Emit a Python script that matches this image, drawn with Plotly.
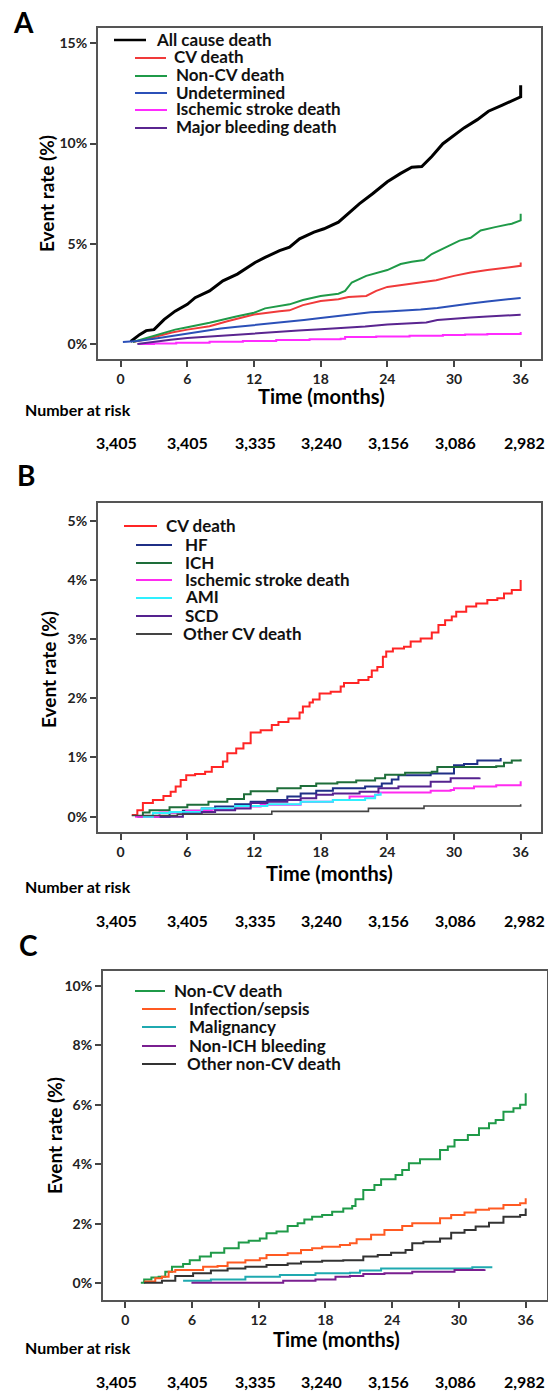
import plotly.graph_objects as go

W, H = 548, 1391
FONT = "Lato"

# ---------------- data ----------------
months_ticks = [0, 6, 12, 18, 24, 30, 36]
month_labels = ["0", "6", "12", "18", "24", "30", "36"]
at_risk = ["3,405", "3,405", "3,335", "3,240", "3,156", "3,086", "2,982"]

a_yticks = [0, 5, 10, 15]
a_ylabels = ["0%", "5%", "10%", "15%"]
b_yticks = [0, 1, 2, 3, 4, 5]
b_ylabels = ["0%", "1%", "2%", "3%", "4%", "5%"]
c_yticks = [0, 2, 4, 6, 8, 10]
c_ylabels = ["0%", "2%", "4%", "6%", "8%", "10%"]

# Panel A
a_all_m = [0.9, 1.7, 2.3, 3.0, 3.9, 4.9, 6.0, 6.7, 8.0, 9.2, 10.5, 12.1, 13.0, 14.3, 15.2, 16.1,
           17.4, 18.3, 19.6, 20.5, 21.5, 22.7, 24.0, 25.2, 26.2, 27.1, 28.0, 29.0, 29.9, 30.9,
           32.1, 33.1, 34.3, 35.6, 36.0, 36.0]
a_all_v = [0.13, 0.47, 0.67, 0.72, 1.22, 1.64, 1.98, 2.31, 2.65, 3.15, 3.49, 4.07, 4.32, 4.66, 4.83, 5.25,
           5.58, 5.75, 6.08, 6.5, 7.0, 7.51, 8.09, 8.51, 8.82, 8.85, 9.35, 9.99, 10.36, 10.78,
           11.19, 11.61, 11.9, 12.23, 12.33, 12.9]
a_cv_m = [1.1, 2.2, 3.3, 4.6, 6.0, 8.0, 9.6, 12.0, 14.3, 15.2, 16.4, 18.0, 19.6, 20.5, 22.1, 23.0,
          24.0, 25.2, 26.8, 28.4, 30.0, 31.5, 33.0, 34.6, 36.0, 36.0]
a_cv_v = [0.1, 0.22, 0.39, 0.58, 0.72, 0.89, 1.14, 1.47, 1.64, 1.68, 1.94, 2.15, 2.23, 2.35, 2.4, 2.65,
          2.85, 2.95, 3.07, 3.18, 3.4, 3.57, 3.69, 3.82, 3.9, 4.07]
a_noncv_m = [1.1, 3.3, 4.9, 6.0, 8.0, 10.5, 12.0, 13.0, 15.2, 16.4, 18.0, 19.6, 20.2, 20.8, 22.1, 24.0,
             25.2, 26.2, 27.3, 28.0, 29.3, 30.5, 31.5, 32.4, 33.7, 35.2, 36.0, 36.0]
a_noncv_v = [0.1, 0.47, 0.72, 0.84, 1.06, 1.39, 1.56, 1.78, 1.98, 2.2, 2.4, 2.51, 2.65, 3.07, 3.4, 3.69,
             3.99, 4.1, 4.19, 4.49, 4.83, 5.16, 5.3, 5.66, 5.83, 6.0, 6.17, 6.5]
a_undet_m = [0.2, 1.5, 3.0, 4.5, 6.0, 7.5, 9.0, 10.5, 12.0, 13.5, 15.0, 16.5, 18.0, 19.5, 21.0, 22.5,
             24.0, 25.5, 27.0, 28.5, 30.0, 31.5, 33.0, 34.5, 36.0]
a_undet_v = [0.1, 0.15, 0.27, 0.4, 0.52, 0.65, 0.78, 0.86, 0.94, 1.03, 1.12, 1.2, 1.3, 1.4, 1.5, 1.58,
             1.62, 1.66, 1.72, 1.8, 1.92, 2.02, 2.12, 2.22, 2.3]
a_isch_m = [1.6, 3.0, 5.0, 8.0, 11.0, 14.0, 17.0, 19.8, 20.2, 23.0, 26.0, 29.0, 31.0, 33.0, 36.0, 36.0]
a_isch_v = [0.0, 0.03, 0.07, 0.12, 0.15, 0.2, 0.24, 0.27, 0.35, 0.38, 0.42, 0.45, 0.48, 0.5, 0.52, 0.6]
a_bleed_m = [1.5, 3.0, 4.5, 6.0, 8.0, 10.0, 12.0, 14.0, 16.0, 18.0, 20.0, 22.0, 24.0, 26.0, 27.5, 28.5,
             30.0, 31.5, 33.0, 34.5, 36.0]
a_bleed_v = [0.0, 0.12, 0.22, 0.3, 0.38, 0.46, 0.53, 0.6, 0.67, 0.74, 0.8, 0.88, 0.98, 1.04, 1.08, 1.2,
             1.28, 1.33, 1.38, 1.43, 1.46]

# Panel B
b_cv_m = [1.0, 1.5, 2.0, 2.9, 3.85, 4.5, 4.95, 5.4, 5.9, 6.7, 7.6, 8.2, 9.2, 9.6, 10.4, 11.05, 11.7,
          12.6, 13.6, 14.2, 15.1, 16.1, 16.4, 17.0, 17.3, 17.9, 18.9, 19.8, 20.1, 21.4, 22.3, 22.6,
          23.1, 23.6, 23.9, 24.5, 25.5, 26.1, 27.0, 28.0, 28.6, 29.2, 29.8, 30.2, 31.1, 32.0, 33.0,
          33.9, 34.5, 35.2, 36.0, 36.0]
b_cv_v = [0.03, 0.11, 0.23, 0.28, 0.35, 0.42, 0.51, 0.62, 0.7, 0.72, 0.76, 0.84, 0.93, 1.07, 1.15, 1.24,
          1.42, 1.46, 1.55, 1.6, 1.66, 1.76, 1.86, 1.93, 1.98, 2.08, 2.11, 2.2, 2.26, 2.31, 2.36, 2.47,
          2.53, 2.7, 2.79, 2.84, 2.87, 2.96, 3.01, 3.11, 3.24, 3.32, 3.38, 3.46, 3.55, 3.6, 3.66,
          3.69, 3.77, 3.83, 3.83, 4.0]
b_hf_m = [1.5, 4.4, 5.6, 7.3, 8.5, 10.3, 11.7, 13.2, 15.0, 16.2, 17.6, 19.1, 22.0, 23.5, 24.4, 25.0,
          27.9, 30.0, 30.9, 32.1, 34.2]
b_hf_v = [0.0, 0.07, 0.1, 0.14, 0.17, 0.21, 0.25, 0.28, 0.34, 0.39, 0.44, 0.48, 0.51, 0.56, 0.63, 0.7,
          0.73, 0.87, 0.89, 0.95, 0.99]
b_ich_m = [1.3, 2.0, 2.6, 4.4, 6.0, 7.9, 9.6, 11.1, 11.7, 14.1, 16.2, 17.6, 19.5, 21.2, 22.9, 23.8,
           25.6, 28.0, 28.5, 33.8, 34.5, 35.2, 36.0]
b_ich_v = [0.01, 0.07, 0.11, 0.16, 0.2, 0.25, 0.3, 0.38, 0.43, 0.48, 0.52, 0.56, 0.58, 0.61, 0.65, 0.71,
           0.74, 0.76, 0.84, 0.85, 0.91, 0.95, 0.97]
b_isch_m = [1.3, 3.5, 5.9, 8.2, 10.3, 12.6, 16.2, 19.1, 20.6, 22.9, 23.2, 27.9, 29.7, 30.0, 31.8, 33.8,
            36.0, 36.0]
b_isch_v = [0.0, 0.07, 0.1, 0.12, 0.17, 0.2, 0.25, 0.28, 0.34, 0.37, 0.41, 0.44, 0.45, 0.48, 0.51, 0.53,
            0.53, 0.6]
b_ami_m = [2.0, 2.9, 4.4, 7.3, 10.3, 13.2, 16.2, 19.1, 22.0, 22.9, 23.4]
b_ami_v = [0.0, 0.06, 0.08, 0.14, 0.18, 0.21, 0.25, 0.28, 0.31, 0.37, 0.41]
b_scd_m = [3.5, 5.6, 7.3, 8.5, 10.3, 11.7, 13.2, 15.0, 16.2, 17.6, 19.1, 21.5, 23.2, 25.0, 27.9, 29.7,
           32.3]
b_scd_v = [0.0, 0.05, 0.08, 0.11, 0.14, 0.23, 0.25, 0.28, 0.31, 0.37, 0.39, 0.42, 0.48, 0.51, 0.59, 0.65,
           0.66]
b_other_m = [1.0, 5.1, 13.6, 22.3, 27.3, 36.0, 36.0]
b_other_v = [0.02, 0.04, 0.09, 0.14, 0.18, 0.18, 0.21]

# Panel C
c_noncv_m = [1.4, 1.7, 2.35, 3.0, 3.6, 4.2, 5.2, 5.8, 6.7, 7.7, 8.9, 10.2, 11.1, 12.1, 12.7, 13.6, 14.6,
             15.5, 16.1, 16.8, 17.7, 18.6, 19.6, 20.4, 20.7, 21.4, 22.4, 23.0, 24.3, 24.9, 25.5, 26.5,
             27.7, 28.3, 29.0, 29.6, 30.8, 31.8, 32.7, 33.3, 34.0, 34.9, 35.5, 36.0, 36.0]
c_noncv_v = [0.02, 0.13, 0.2, 0.22, 0.39, 0.56, 0.65, 0.78, 0.9, 1.03, 1.18, 1.37, 1.43, 1.51, 1.68, 1.74,
             1.93, 2.02, 2.15, 2.24, 2.3, 2.41, 2.52, 2.6, 2.83, 3.14, 3.31, 3.5, 3.64, 3.81, 4.04, 4.17,
             4.17, 4.48, 4.6, 4.82, 4.99, 5.21, 5.38, 5.49, 5.77, 5.89, 6.0, 6.11, 6.39]
c_inf_m = [1.7, 2.7, 3.3, 3.9, 4.5, 6.1, 7.0, 8.3, 9.2, 10.8, 12.1, 12.7, 14.6, 15.8, 16.8, 17.7, 19.3,
           20.2, 20.8, 22.1, 23.3, 24.9, 25.8, 27.7, 28.3, 29.3, 30.5, 31.5, 32.7, 34.0, 35.5, 36.0, 36.0]
c_inf_v = [0.06, 0.17, 0.22, 0.39, 0.45, 0.45, 0.56, 0.58, 0.7, 0.78, 0.84, 0.95, 1.01, 1.12, 1.18, 1.23,
           1.29, 1.35, 1.48, 1.63, 1.79, 1.93, 2.02, 2.02, 2.19, 2.3, 2.38, 2.47, 2.52, 2.63, 2.69, 2.75,
           2.86]
c_malig_m = [5.2, 7.7, 10.8, 13.9, 17.1, 20.2, 21.1, 23.0, 31.2, 33.0]
c_malig_v = [0.09, 0.13, 0.22, 0.28, 0.34, 0.36, 0.43, 0.5, 0.54, 0.54]
c_bleed_m = [5.95, 14.2, 17.1, 18.9, 20.2, 21.4, 23.3, 25.8, 29.6, 32.3]
c_bleed_v = [0.02, 0.09, 0.13, 0.22, 0.25, 0.31, 0.34, 0.39, 0.45, 0.47]
c_other_m = [1.7, 3.3, 4.5, 6.1, 7.7, 9.2, 10.8, 12.7, 14.6, 15.8, 17.7, 19.6, 20.8, 21.4, 22.7, 23.9,
             25.2, 25.8, 26.8, 27.7, 28.3, 29.3, 30.5, 31.5, 32.7, 34.0, 35.5, 36.0, 36.0]
c_other_v = [0.02, 0.09, 0.25, 0.34, 0.43, 0.5, 0.56, 0.62, 0.67, 0.73, 0.76, 0.78, 0.78, 0.9, 0.95, 1.03,
             1.12, 1.35, 1.4, 1.4, 1.51, 1.7, 1.79, 1.91, 2.04, 2.24, 2.3, 2.35, 2.52]

# ---------------- styling ----------------
panels = [
    dict(ax="", letter="A", frame=(98, 541, 28, 359.3), xr=(-2.04, 37.83), yr=(-0.76, 15.76),
         yt=a_yticks, yl=a_ylabels, letter_xy=(23.5, 22), ytitle_xy=(46, 194),
         xtitle_xy=(321, 396), nar_y=409, num_y=443,
         series=[
             ("All cause death", a_all_m, a_all_v, "#000000", 3.0, "linear", (114, 146, 40), 154),
             ("CV death", a_cv_m, a_cv_v, "#f03a3a", 2.0, "linear", (135, 166, 58), 172),
             ("Non-CV death", a_noncv_m, a_noncv_v, "#1f9a48", 2.0, "linear", (135, 167, 76), 174),
             ("Undetermined", a_undet_m, a_undet_v, "#2b50b8", 2.0, "linear", (135, 167, 93), 174),
             ("Ischemic stroke death", a_isch_m, a_isch_v, "#ff2bff", 2.0, "hv", (135, 167, 110), 174),
             ("Major bleeding death", a_bleed_m, a_bleed_v, "#5a2590", 2.0, "linear", (135, 167, 128), 174),
         ]),
    dict(ax="2", letter="B", frame=(98, 541, 503.3, 832.3), xr=(-2.04, 37.83), yr=(-0.264, 5.294),
         yt=b_yticks, yl=b_ylabels, letter_xy=(25.5, 475), ytitle_xy=(49, 670),
         xtitle_xy=(329, 873), nar_y=886, num_y=920,
         series=[
             ("CV death", b_cv_m, b_cv_v, "#ff2525", 2.0, "hv", (124, 157, 526), 164),
             ("HF", b_hf_m, b_hf_v, "#1f2f86", 2.0, "hv", (136, 172, 545), 183),
             ("ICH", b_ich_m, b_ich_v, "#1e6e3a", 2.0, "hv", (136, 172, 563), 183),
             ("Ischemic stroke death", b_isch_m, b_isch_v, "#ff2bf0", 2.0, "hv", (136, 172, 580), 183),
             ("AMI", b_ami_m, b_ami_v, "#2ef0ff", 2.0, "hv", (136, 172, 598), 183),
             ("SCD", b_scd_m, b_scd_v, "#55228f", 2.0, "hv", (136, 172, 616), 183),
             ("Other CV death", b_other_m, b_other_v, "#444444", 1.6, "hv", (136, 172, 634), 181),
         ]),
    dict(ax="3", letter="C", frame=(103, 546.5, 970.7, 1300), xr=(-2.0, 37.87), yr=(-0.56, 10.51),
         yt=c_yticks, yl=c_ylabels, letter_xy=(28, 945), ytitle_xy=(54, 1136),
         xtitle_xy=(336, 1339), nar_y=1347, num_y=1381,
         series=[
             ("Non-CV death", c_noncv_m, c_noncv_v, "#1f9a48", 2.0, "hv", (135, 165, 991), 172),
             ("Infection/sepsis", c_inf_m, c_inf_v, "#ff5a22", 2.0, "hv", (142, 176, 1009), 187),
             ("Malignancy", c_malig_m, c_malig_v, "#1fa9b0", 2.0, "hv", (142, 176, 1027), 187),
             ("Non-ICH bleeding", c_bleed_m, c_bleed_v, "#7a1f90", 2.0, "hv", (142, 176, 1046), 187),
             ("Other non-CV death", c_other_m, c_other_v, "#333333", 2.0, "hv", (142, 176, 1064), 185),
         ]),
]
num_x = [116, 187.5, 255.7, 321, 388, 455.6, 524.6]

def px(X):
    return X / W

def py(Y):
    return 1 - Y / H

fig = go.Figure()
shapes = []
annotations = []
layout_axes = {}

for p in panels:
    ax = p["ax"]
    x0, x1, y0, y1 = p["frame"]
    for name, xs, ys, col, lw, shp, leg, tx in p["series"]:
        fig.add_trace(go.Scatter(
            x=xs, y=ys, mode="lines", name=name, showlegend=False, hoverinfo="skip",
            line=dict(color=col, width=lw, shape=shp),
            xaxis="x" + ax, yaxis="y" + ax))
        lx0, lx1, ly = leg
        shapes.append(dict(type="line", xref="paper", yref="paper",
                           x0=px(lx0), x1=px(lx1), y0=py(ly), y1=py(ly),
                           line=dict(color=col, width=2.5 if lw > 2.5 else 2)))
        annotations.append(dict(text=name, xref="paper", yref="paper", x=px(tx), y=py(ly - 1),
                                xanchor="left", yanchor="middle", showarrow=False,
                                font=dict(family=FONT, size=17, color="#111", weight="bold")))
    common_tick_font = dict(family=FONT, size=14, color="#222", weight="bold")
    layout_axes["xaxis" + ax] = dict(
        domain=[px(x0), px(x1)], range=list(p["xr"]), anchor="y" + ax,
        tickmode="array", tickvals=months_ticks, ticktext=month_labels,
        ticks="outside", ticklen=6, tickwidth=1.5, tickcolor="#444",
        showline=True, linecolor="#555", linewidth=2, mirror=True,
        showgrid=False, zeroline=False, tickfont=common_tick_font, fixedrange=True)
    layout_axes["yaxis" + ax] = dict(
        domain=[py(y1), py(y0)], range=list(p["yr"]), anchor="x" + ax,
        tickmode="array", tickvals=p["yt"], ticktext=p["yl"],
        ticks="outside", ticklen=6, tickwidth=1.5, tickcolor="#444",
        showline=True, linecolor="#555", linewidth=2, mirror=True,
        showgrid=False, zeroline=False, tickfont=common_tick_font, fixedrange=True)

    lx, ly = p["letter_xy"]
    annotations.append(dict(text=p["letter"], xref="paper", yref="paper", x=px(lx), y=py(ly),
                            xanchor="center", yanchor="middle", showarrow=False,
                            font=dict(family=FONT, size=28, color="#000", weight="bold")))
    tx, ty = p["ytitle_xy"]
    annotations.append(dict(text="Event rate (%)", xref="paper", yref="paper", x=px(tx), y=py(ty),
                            xanchor="center", yanchor="middle", showarrow=False, textangle=-90,
                            font=dict(family=FONT, size=19, color="#000", weight="bold")))
    tx, ty = p["xtitle_xy"]
    annotations.append(dict(text="Time (months)", xref="paper", yref="paper", x=px(tx), y=py(ty),
                            xanchor="center", yanchor="middle", showarrow=False,
                            font=dict(family=FONT, size=20, color="#000", weight="bold")))
    annotations.append(dict(text="Number at risk", xref="paper", yref="paper", x=px(22.5), y=py(p["nar_y"]),
                            xanchor="left", yanchor="middle", showarrow=False,
                            font=dict(family=FONT, size=16, color="#000", weight="bold")))
    for nx, lab in zip(num_x, at_risk):
        annotations.append(dict(text=lab, xref="paper", yref="paper", x=px(nx), y=py(p["num_y"]),
                                xanchor="center", yanchor="middle", showarrow=False,
                                font=dict(family=FONT, size=16, color="#000", weight="bold")))

fig.update_layout(
    width=W, height=H, autosize=False,
    margin=dict(l=0, r=0, t=0, b=0),
    paper_bgcolor="white", plot_bgcolor="white",
    shapes=shapes, annotations=annotations,
    font=dict(family=FONT),
    **layout_axes)

fig.write_html("out.html", config=dict(displayModeBar=False),
               post_script="document.body.style.margin='0';document.body.style.overflow='hidden';")
